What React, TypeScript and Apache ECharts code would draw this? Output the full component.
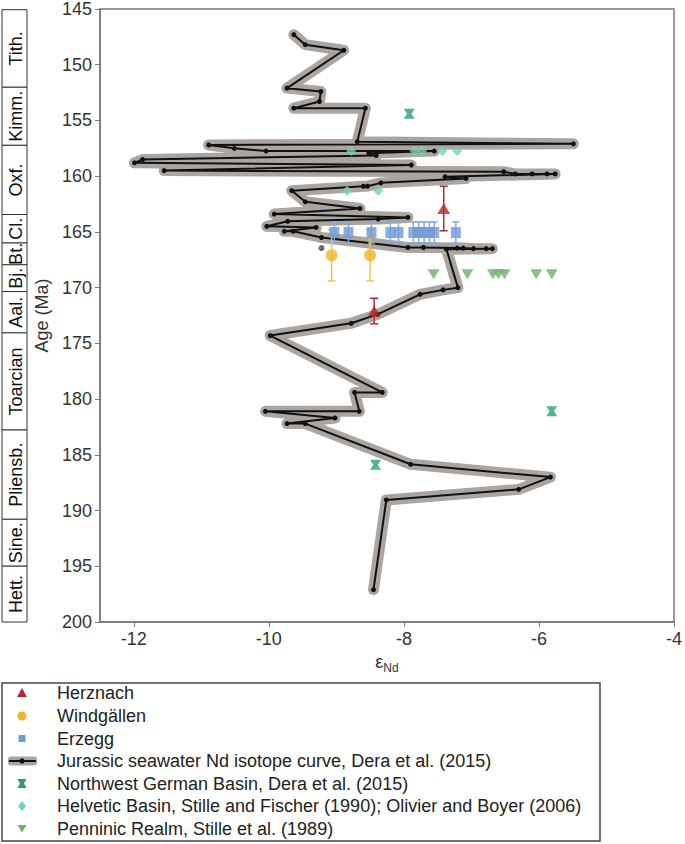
import React, { useEffect, useRef } from 'react';
import * as echarts from 'echarts';

// Jurassic seawater Nd isotope curve (Dera et al. 2015)
const curveEps = [-9.63, -9.46, -8.89, -9.73, -9.23, -9.25, -9.63, -8.57, -8.69, -5.49, -10.89, -10.51, -10.04, -7.55, -8.52, -8.41, -11.87, -11.99, -7.89, -11.55, -6.52, -6.35, -6.1, -5.88, -5.76, -7.39, -7.08, -8.34, -8.54, -8.6, -9.66, -9.46, -8.65, -9.92, -7.94, -8.38, -9.72, -10.03, -9.3, -9.77, -9.64, -9.22, -7.94, -7.71, -7.21, -7.12, -6.97, -6.78, -6.69, -7.37, -7.2, -7.42, -7.76, -8.39, -8.78, -9.98, -8.32, -8.73, -8.66, -10.05, -9.02, -9.73, -9.46, -7.9, -5.83, -6.3, -8.26, -8.45];
const curveAge = [147.3, 148.2, 148.7, 152.1, 152.4, 153.3, 153.9, 153.9, 156.9, 157.1, 157.2, 157.5, 157.75, 157.75, 157.95, 158.15, 158.5, 158.8, 159.0, 159.5, 159.6, 159.8, 159.8, 159.8, 159.8, 160.05, 160.2, 160.6, 160.9, 160.9, 161.3, 162.3, 162.9, 163.4, 163.7, 163.85, 164.05, 164.5, 164.6, 164.95, 164.95, 165.5, 166.4, 166.4, 166.45, 166.45, 166.5, 166.5, 166.5, 166.55, 170.0, 170.2, 170.6, 172.4, 173.2, 174.3, 179.4, 179.4, 181.1, 181.1, 181.7, 182.2, 182.2, 185.85, 187.0, 188.1, 189.05, 197.1];

const herznachEps = [-7.41, -8.44];
const herznachAge = [162.9, 172.1];
const herznachErr = [2.0, 1.15];

const windgallenEps = [-9.07, -8.5];
const windgallenAge = [167.1, 167.1];
const windgallenErr = [2.3, 2.3];

const erzeggEps = [-9.03, -8.82, -8.48, -8.2, -8.08, -7.86, -7.78, -7.7, -7.62, -7.55, -7.23];
const erzeggAge = [165.05, 165.05, 165.05, 165.05, 165.05, 165.05, 165.05, 165.05, 165.05, 165.05, 165.05];
const erzeggErr = [0.95, 0.95, 0.95, 0.95, 0.95, 0.95, 0.95, 0.95, 0.95, 0.95, 0.95];

const nwgbEps = [-7.92, -5.81, -8.42];
const nwgbAge = [154.4, 181.1, 185.9];

const helveticEps = [-8.78, -7.84, -7.73, -7.43, -7.21, -8.84, -8.38];
const helveticAge = [157.75, 157.75, 157.75, 157.75, 157.75, 161.3, 161.3];

const penninicEps = [-7.56, -7.06, -6.68, -6.6, -6.51, -6.04, -5.81];
const penninicAge = [168.8, 168.8, 168.8, 168.8, 168.8, 168.8, 168.8];

const extraDotEps = [-9.22];
const extraDotAge = [166.45];

const stageNames = ['Tith.', 'Kimm.', 'Oxf.', 'Cl.', 'Bt.', 'Bj.', 'Aal.', 'Toarcian', 'Pliensb.', 'Sine.', 'Hett.'];
const stageTop = [145.15, 152.1, 157.3, 163.5, 166.05, 168.0, 170.4, 174.1, 182.8, 190.8, 195.0];
const stageBottom = [152.1, 157.3, 163.5, 166.05, 168.0, 170.4, 174.1, 182.8, 190.8, 195.0, 200.0];

const xTicks = [-12, -10, -8, -6, -4];

const legendNames = [
  'Herznach',
  'Windgällen',
  'Erzegg',
  'Jurassic seawater Nd isotope curve, Dera et al. (2015)',
  'Northwest German Basin, Dera et al. (2015)',
  'Helvetic Basin, Stille and Fischer (1990); Olivier and Boyer (2006)',
  'Penninic Realm, Stille et al. (1989)',
];

const FONT = '"Liberation Sans", Arial, Helvetica, sans-serif';
const C_RED = '#b12a2e';
const C_YEL = '#f1b42a';
const C_BLUE = '#6f9ad7';
const C_BAND = '#aaa5a0';
const C_TEAL = '#2a9c7a';
const C_LTEAL = '#76d1b2';
const C_GREEN = '#6bb06d';
const HOURGLASS = 'path://M0,0L10,0L7,5L10,10L0,10L3,5Z';

const zip = (a: number[], b: number[]) => a.map((v, i) => [v, b[i]]);
const zipErr = (a: number[], b: number[], e: number[]) => a.map((v, i) => [v, b[i] - e[i], b[i] + e[i]]);

function errorBar(color: string, cap: number, width: number) {
  return (params: any, api: any) => {
    const x = api.value(0);
    const lo = api.coord([x, api.value(1)]);
    const hi = api.coord([x, api.value(2)]);
    const st = { stroke: color, lineWidth: width };
    return {
      type: 'group',
      children: [
        { type: 'line', shape: { x1: lo[0], y1: lo[1], x2: hi[0], y2: hi[1] }, style: st },
        { type: 'line', shape: { x1: lo[0] - cap, y1: lo[1], x2: lo[0] + cap, y2: lo[1] }, style: st },
        { type: 'line', shape: { x1: hi[0] - cap, y1: hi[1], x2: hi[0] + cap, y2: hi[1] }, style: st },
      ],
    };
  };
}

function buildLegend(): any[] {
  const rows = [693, 716, 738.5, 761, 783.5, 806, 828.5];
  const cx = 22;
  const els: any[] = [
    { type: 'rect', shape: { x: 2, y: 683, width: 598, height: 158 }, style: { fill: 'none', stroke: '#444', lineWidth: 1.5 } },
  ];
  const y = rows;
  els.push({ type: 'polygon', shape: { points: [[cx, y[0] - 5], [cx + 5, y[0] + 4], [cx - 5, y[0] + 4]] }, style: { fill: C_RED } });
  els.push({ type: 'circle', shape: { cx, cy: y[1], r: 4.5 }, style: { fill: C_YEL } });
  els.push({ type: 'rect', shape: { x: cx - 3.5, y: y[2] - 3.5, width: 7, height: 7 }, style: { fill: C_BLUE } });
  els.push({ type: 'rect', shape: { x: 8, y: y[3] - 4.5, width: 29, height: 9, r: 3 }, style: { fill: C_BAND } });
  els.push({ type: 'line', shape: { x1: 9, y1: y[3], x2: 36, y2: y[3] }, style: { stroke: '#111', lineWidth: 2 } });
  els.push({ type: 'circle', shape: { cx, cy: y[3], r: 2.7 }, style: { fill: '#111' } });
  els.push({ type: 'polygon', shape: { points: [[cx - 4.5, y[4] - 4.5], [cx + 4.5, y[4] - 4.5], [cx + 2, y[4]], [cx + 4.5, y[4] + 4.5], [cx - 4.5, y[4] + 4.5], [cx - 2, y[4]]] }, style: { fill: C_TEAL } });
  els.push({ type: 'polygon', shape: { points: [[cx, y[5] - 5], [cx + 4, y[5]], [cx, y[5] + 5], [cx - 4, y[5]]] }, style: { fill: C_LTEAL } });
  els.push({ type: 'polygon', shape: { points: [[cx - 4.5, y[6] - 3.5], [cx + 4.5, y[6] - 3.5], [cx, y[6] + 4]] }, style: { fill: C_GREEN } });
  legendNames.forEach((n, i) => {
    els.push({ type: 'text', x: 57, y: rows[i], style: { text: n, fontSize: 18, fontFamily: FONT, fill: '#222', verticalAlign: 'middle', align: 'left' } });
  });
  return els;
}

export default function App() {
  const ref = useRef<HTMLDivElement>(null);
  useEffect(() => {
    if (!ref.current) return;
    const chart = echarts.init(ref.current, null, { renderer: 'svg' });
    const curveData = zip(curveEps, curveAge);
    const stageData = stageNames.map((n, i) => [stageTop[i], stageBottom[i], i]);
    const option: any = {
      animation: false,
      backgroundColor: '#ffffff',
      textStyle: { fontFamily: FONT },
      grid: [
        { left: 100, right: 6, top: 8, bottom: 222, show: true, borderColor: '#777', borderWidth: 1.5, backgroundColor: 'transparent' },
        { left: 2, width: 25, top: 8, bottom: 222 },
      ],
      xAxis: [
        {
          type: 'value', gridIndex: 0, min: -12.5, max: -4,
          name: '{e|ε}{s|Nd}', nameLocation: 'middle', nameGap: 28,
          nameTextStyle: { color: '#333', rich: { e: { fontSize: 18, color: '#333', fontFamily: FONT }, s: { fontSize: 12, color: '#333', fontFamily: FONT, padding: [12, 0, 0, 0] } } },
          axisLine: { show: true, onZero: false, lineStyle: { color: '#777', width: 1.5 } },
          axisTick: { show: true, length: 5, customValues: xTicks, lineStyle: { color: '#777' } },
          axisLabel: { customValues: xTicks, fontSize: 18, color: '#333', margin: 8, fontFamily: FONT },
          splitLine: { show: false },
        },
        { type: 'value', gridIndex: 1, min: 0, max: 1, show: false },
      ],
      yAxis: [
        {
          type: 'value', gridIndex: 0, min: 145, max: 200, interval: 5, inverse: true,
          name: 'Age (Ma)', nameLocation: 'middle', nameGap: 46,
          nameTextStyle: { fontSize: 18, color: '#333', fontFamily: FONT },
          axisLine: { show: true, onZero: false, lineStyle: { color: '#777', width: 1.5 } },
          axisTick: { show: true, length: 5, lineStyle: { color: '#777' } },
          axisLabel: { fontSize: 18, color: '#333', margin: 8, fontFamily: FONT },
          splitLine: { show: false },
        },
        { type: 'value', gridIndex: 1, min: 145, max: 200, inverse: true, show: false },
      ],
      series: [
        {
          type: 'custom', name: 'stages', xAxisIndex: 1, yAxisIndex: 1, data: stageData, silent: true, clip: false,
          encode: { x: -1, y: [0, 1] },
          renderItem: (params: any, api: any) => {
            const p1 = api.coord([0, api.value(0)]);
            const p2 = api.coord([1, api.value(1)]);
            const name = stageNames[params.dataIndex];
            return {
              type: 'group',
              children: [
                { type: 'rect', shape: { x: p1[0], y: p1[1], width: p2[0] - p1[0], height: p2[1] - p1[1] }, style: { fill: '#fff', stroke: '#333', lineWidth: 1 } },
                { type: 'text', x: (p1[0] + p2[0]) / 2 + 1, y: (p1[1] + p2[1]) / 2, rotation: Math.PI / 2, style: { text: name, fontSize: 18, fontFamily: FONT, fill: '#111', align: 'center', verticalAlign: 'middle' } },
              ],
            };
          },
        },
        {
          type: 'line', name: 'band', data: curveData, symbol: 'none', silent: true, z: 2,
          lineStyle: { color: C_BAND, width: 11, cap: 'round', join: 'round' },
        },
        {
          type: 'line', name: legendNames[3], data: curveData, symbol: 'circle', symbolSize: 5, showSymbol: true, z: 3,
          itemStyle: { color: '#111' }, lineStyle: { color: '#111', width: 2, join: 'round' },
        },
        { type: 'scatter', name: 'dot', data: zip(extraDotEps, extraDotAge), symbol: 'circle', symbolSize: 6, itemStyle: { color: '#444' }, z: 4 },
        { type: 'custom', name: 'erzegg-err', data: zipErr(erzeggEps, erzeggAge, erzeggErr), encode: { x: 0, y: [1, 2] }, renderItem: errorBar('#86aae0', 3.5, 1.5), z: 4 },
        { type: 'custom', name: 'windgallen-err', data: zipErr(windgallenEps, windgallenAge, windgallenErr), encode: { x: 0, y: [1, 2] }, renderItem: errorBar('#f3c454', 4, 1.5), z: 4 },
        { type: 'custom', name: 'herznach-err', data: zipErr(herznachEps, herznachAge, herznachErr), encode: { x: 0, y: [1, 2] }, renderItem: errorBar(C_RED, 4, 1.5), z: 4 },
        { type: 'scatter', name: legendNames[2], data: zip(erzeggEps, erzeggAge), symbol: 'rect', symbolSize: [10, 11], itemStyle: { color: C_BLUE }, z: 5 },
        { type: 'scatter', name: legendNames[1], data: zip(windgallenEps, windgallenAge), symbol: 'circle', symbolSize: 12, itemStyle: { color: C_YEL }, z: 5 },
        { type: 'scatter', name: legendNames[0], data: zip(herznachEps, herznachAge), symbol: 'triangle', symbolSize: [13, 11], itemStyle: { color: C_RED }, z: 5 },
        { type: 'scatter', name: legendNames[4], data: zip(nwgbEps, nwgbAge), symbol: HOURGLASS, symbolSize: [11, 10], itemStyle: { color: C_TEAL }, z: 5 },
        { type: 'scatter', name: legendNames[5], data: zip(helveticEps, helveticAge), symbol: 'diamond', symbolSize: [10, 10], itemStyle: { color: C_LTEAL }, z: 5 },
        { type: 'scatter', name: legendNames[6], data: zip(penninicEps, penninicAge), symbol: 'triangle', symbolRotate: 180, symbolSize: [12, 10], itemStyle: { color: C_GREEN }, z: 5 },
      ],
      graphic: { elements: buildLegend() },
    };
    chart.setOption(option);
    return () => chart.dispose();
  }, []);
  return <div ref={ref} style={{ position: 'fixed', left: 0, top: 0, width: 685, height: 844, background: '#fff' }} />;
}
